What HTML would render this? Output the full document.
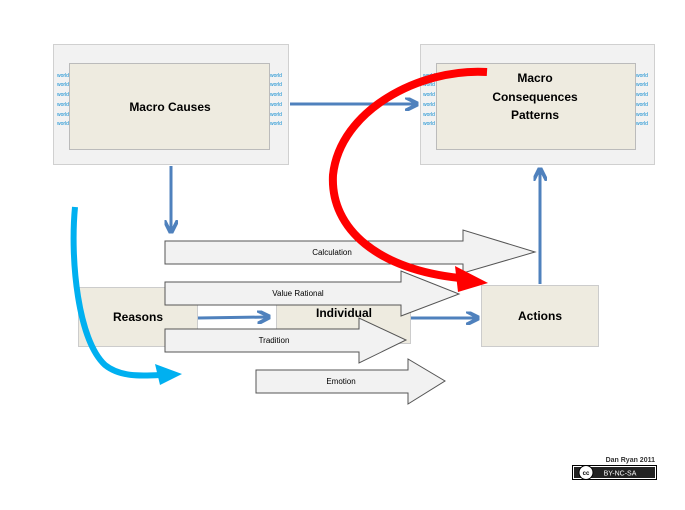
<!DOCTYPE html>
<html><head><style>
body{margin:0;background:#fff;width:685px;height:505px;overflow:hidden}
svg text{font-family:"Liberation Sans",sans-serif}
</style></head><body>
<svg width="685" height="505" xmlns="http://www.w3.org/2000/svg">
<defs>
<marker id="bh" viewBox="0 0 10 10" refX="8" refY="5" markerWidth="4.5" markerHeight="4.5" orient="auto"><path d="M0,0 L10,5 L0,10" fill="none" stroke="#4f81bd" stroke-width="2.8"/></marker>
</defs>
<rect x="53.5" y="44.5" width="235" height="120" fill="#f2f2f2" stroke="#d0d0d0"/>
<rect x="69.5" y="63.5" width="200" height="86" fill="#eeebe0" stroke="#bbb"/>
<text x="170" y="111" font-size="12" font-weight="bold" text-anchor="middle">Macro Causes</text>
<rect x="420.5" y="44.5" width="234" height="120" fill="#f2f2f2" stroke="#d0d0d0"/>
<rect x="436.5" y="63.5" width="199" height="86" fill="#eeebe0" stroke="#bbb"/>
<text x="535" y="82" font-size="12" font-weight="bold" text-anchor="middle">Macro</text>
<text x="535" y="101" font-size="12" font-weight="bold" text-anchor="middle">Consequences</text>
<text x="535" y="119" font-size="12" font-weight="bold" text-anchor="middle">Patterns</text>
<g font-size="5" fill="#0a8ad0">
<text x="57" y="77">world</text><text x="57" y="86">world</text><text x="57" y="96">world</text><text x="57" y="106">world</text><text x="57" y="116">world</text><text x="57" y="125">world</text>
<text x="270" y="77">world</text><text x="270" y="86">world</text><text x="270" y="96">world</text><text x="270" y="106">world</text><text x="270" y="116">world</text><text x="270" y="125">world</text>
<text x="423" y="77">world</text><text x="423" y="86">world</text><text x="423" y="96">world</text><text x="423" y="106">world</text><text x="423" y="116">world</text><text x="423" y="125">world</text>
<text x="636" y="77">world</text><text x="636" y="86">world</text><text x="636" y="96">world</text><text x="636" y="106">world</text><text x="636" y="116">world</text><text x="636" y="125">world</text>
</g>
<g stroke="#4f81bd" stroke-width="3" fill="none" marker-end="url(#bh)">
<line x1="290" y1="104" x2="416" y2="104"/>
<line x1="171" y1="166" x2="171" y2="231"/>
<line x1="540" y1="284" x2="540" y2="170"/>
<line x1="198" y1="318" x2="268" y2="317"/>
<line x1="411" y1="318" x2="477" y2="318"/>
</g>
<rect x="78.5" y="287.5" width="119" height="59" fill="#eeebe0" stroke="#ccc"/>
<text x="138" y="321" font-size="12" font-weight="bold" text-anchor="middle">Reasons</text>
<rect x="276.5" y="285.5" width="134" height="58" fill="#eeebe0" stroke="#ccc"/>
<rect x="481.5" y="285.5" width="117" height="61" fill="#eeebe0" stroke="#ccc"/>
<text x="540" y="320" font-size="12" font-weight="bold" text-anchor="middle">Actions</text>
<g fill="#f2f2f2" stroke="#555" stroke-width="1">
<path d="M165,241 H463 V230 L535,252 L463,273 V264 H165 Z"/>
<path d="M165,282 H401 V271 L459,294 L401,316 V305 H165 Z"/>
</g>
<text x="344" y="317" font-size="12" font-weight="bold" text-anchor="middle">Individual</text>
<g fill="#f2f2f2" stroke="#555" stroke-width="1">
<path d="M165,329 H359 V318 L406,340 L359,363 V352 H165 Z"/>
<path d="M256,370 H408 V359 L445,381 L408,404 V393 H256 Z"/>
</g>
<g font-size="8" text-anchor="middle">
<text x="332" y="255">Calculation</text>
<text x="298" y="296">Value Rational</text>
<text x="274" y="343">Tradition</text>
<text x="341" y="384">Emotion</text>
</g>
<path d="M487,72 C420,68 340,110 333,175 C330,230 380,270 460,278" fill="none" stroke="#ff0000" stroke-width="8"/>
<path d="M455,266 L488,283 L458,292 Z" fill="#ff0000"/>
<path d="M75,207 C70,260 78,340 105,365 C120,377 140,376 160,375" fill="none" stroke="#00b0f0" stroke-width="6"/>
<path d="M155,364 L182,374 L160,385 Z" fill="#00b0f0"/>
<text x="655" y="462" font-size="7" font-weight="bold" fill="#333" text-anchor="end">Dan Ryan 2011</text>
<rect x="572.5" y="465.5" width="84" height="14" fill="#fff" stroke="#000"/>
<rect x="574" y="467" width="81" height="11" fill="#222"/>
<circle cx="586" cy="472.5" r="7" fill="#fff" stroke="#000"/>
<text x="586" y="475" font-size="6" font-weight="bold" text-anchor="middle">cc</text>
<text x="620" y="475.5" font-size="7" fill="#fff" text-anchor="middle">BY-NC-SA</text>
</svg>
</body></html>
